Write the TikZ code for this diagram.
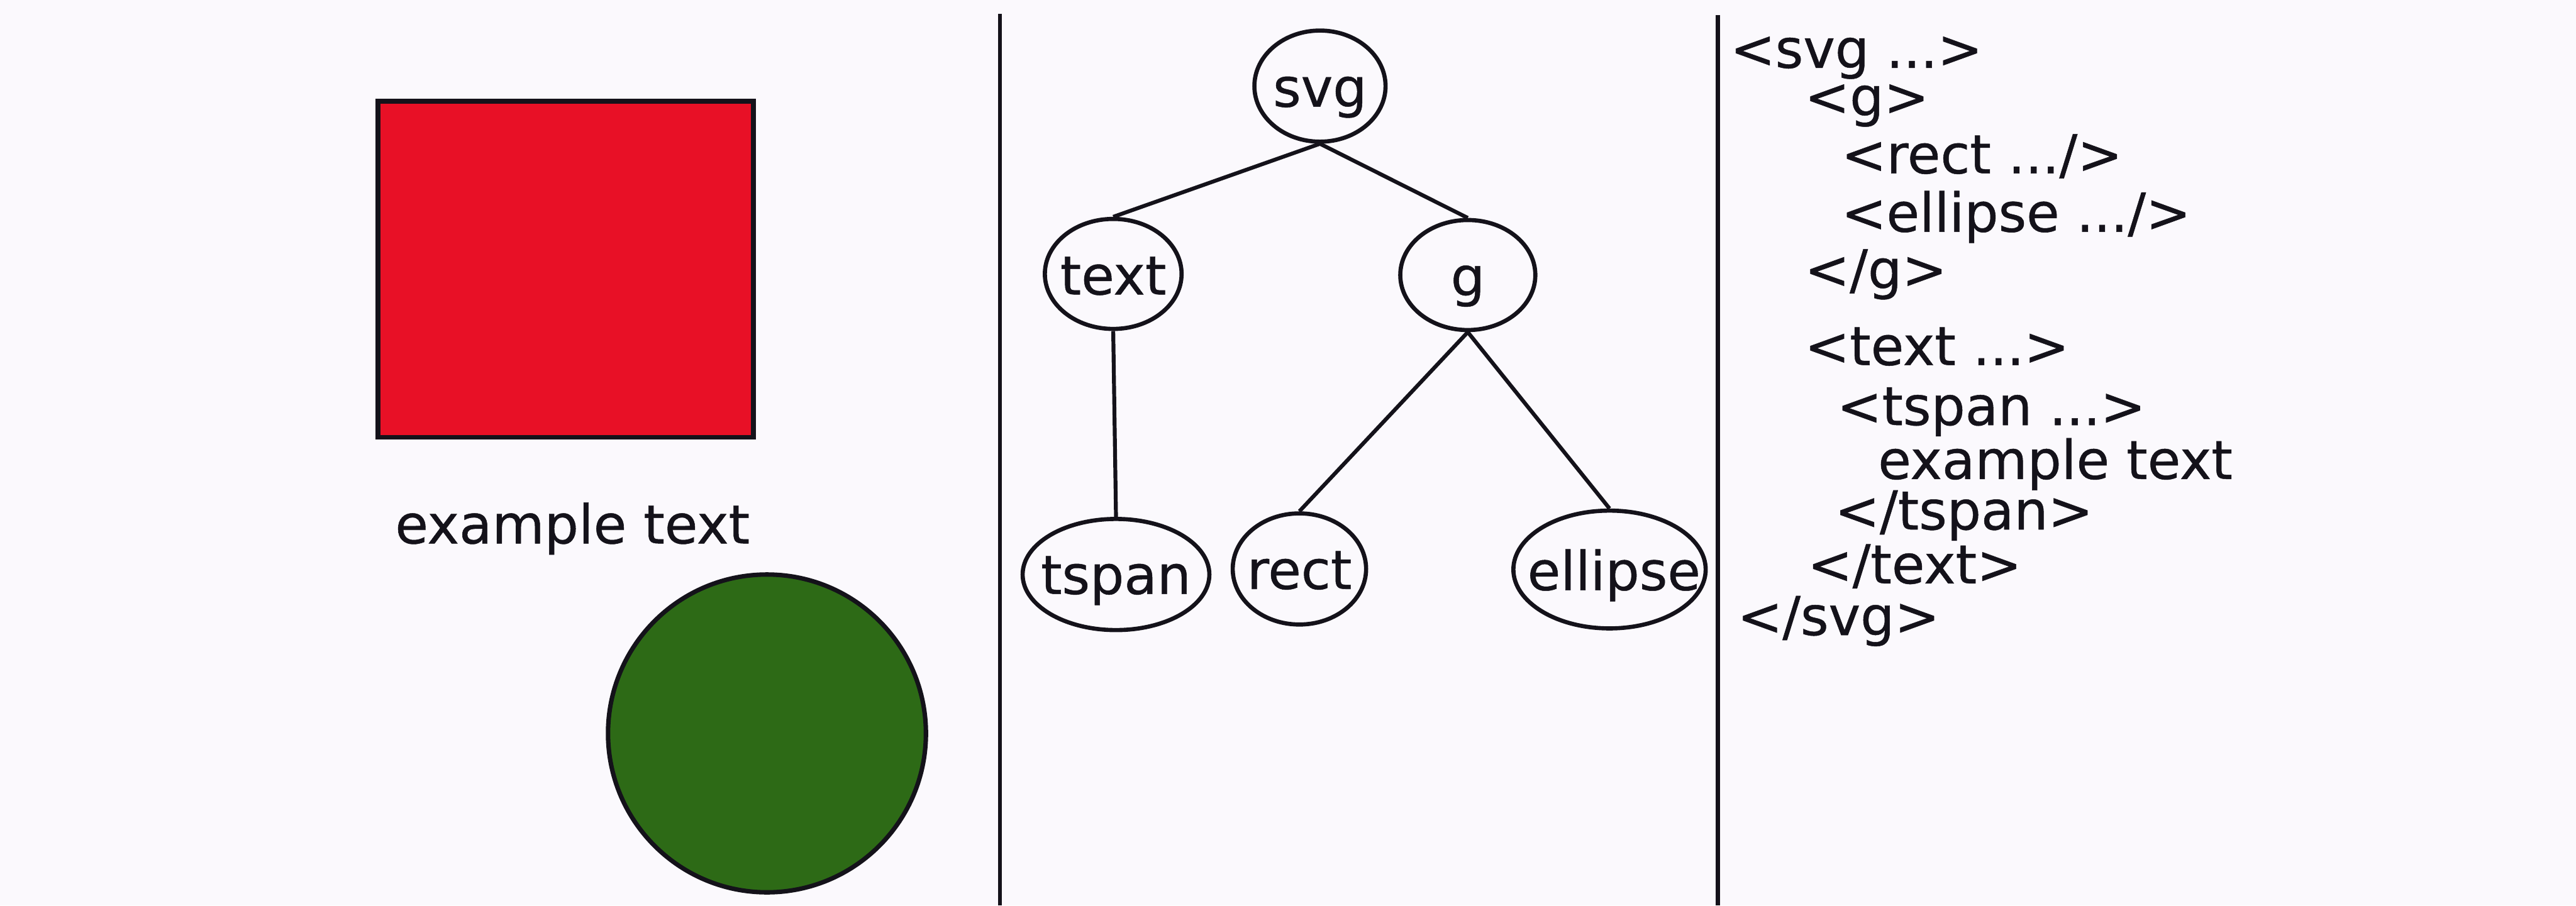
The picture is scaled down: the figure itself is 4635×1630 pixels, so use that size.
\documentclass[tikz,border=0pt]{standalone}
\usepackage{fontspec}
\setmainfont{DejaVu Sans}[FakeBold=0.6]
\usetikzlibrary{shapes.geometric}
\definecolor{paper}{RGB}{251,249,253}
\definecolor{ink}{RGB}{20,18,26}
\definecolor{shapered}{RGB}{232,16,38}
\definecolor{shapegreen}{RGB}{45,106,22}
\begin{document}
\begin{tikzpicture}[x=1pt,y=-1pt,
  every node/.style={font=\fontsize{96.7}{116}\selectfont, text=ink},
  treenode/.style={ellipse, draw=ink, line width=7.5pt, inner sep=0pt},
  treelabel/.style={anchor=base, inner sep=0pt},
  edge/.style={draw=ink, line width=7pt},
  rule/.style={draw=ink, line width=7pt},
  xml/.style={anchor=base west, inner sep=0pt}]

% page
\fill[paper] (0,0) rectangle (4635,1630);
\useasboundingbox (0,0) rectangle (4635,1630);

% rendered drawing: rectangle, caption, circle
\draw[ink, line width=9pt, fill=shapered] (680,182) rectangle (1356,787);
\node[anchor=base, inner sep=0pt] (caption) at (1030,978) {example text};
\draw[ink, line width=8pt, fill=shapegreen] (1380,1320) circle (286);

% column rules
\coordinate (r1top) at (1799,25);
\coordinate (r1bot) at (1799,1630);
\coordinate (r2top) at (3091,27);
\coordinate (r2bot) at (3091,1630);
\draw[rule] (r1top) -- (r1bot);
\draw[rule] (r2top) -- (r2bot);

% document tree
\node[treenode, minimum width=236pt, minimum height=200pt] (svg)   at (2375,155) {};
\node[treenode, minimum width=246pt, minimum height=198pt] (textn) at (2003,493) {};
\node[treenode, minimum width=243pt, minimum height=198pt] (g)     at (2641,495) {};
\node[treenode, minimum width=336pt, minimum height=200pt] (tspan) at (2008,1034) {};
\node[treenode, minimum width=240pt, minimum height=200pt] (rect)  at (2338,1024) {};
\node[treenode, minimum width=346pt, minimum height=212pt] (ell)   at (2896,1025) {};

\node[treelabel] (svglbl)   at (2375,192)  {svg};
\node[treelabel] (textlbl)  at (2003,530)  {text};
\node[treelabel] (glbl)     at (2641,532)  {g};
\node[treelabel] (tspanlbl) at (2008,1069) {tspan};
\node[treelabel] (rectlbl)  at (2338,1060) {rect};
\node[treelabel] (elllbl)   at (2904,1062) {ellipse};

\draw[edge] (svg.south) -- (textn.north);
\draw[edge] (svg.south) -- (g.north);
\draw[edge] (textn.south) -- (tspan.north);
\draw[edge] (g.south) -- (rect.north);
\draw[edge] (g.south) -- (ell.north);

% markup listing
\node[xml] (l1)  at (3113,122)  {<svg ...>};
\node[xml] (l2)  at (3247,208)  {<g>};
\node[xml] (l3)  at (3313,312)  {<rect .../>};
\node[xml] (l4)  at (3313,417)  {<ellipse .../>};
\node[xml] (l5)  at (3247,519)  {</g>};
\node[xml] (l6)  at (3247,657)  {<text ...>};
\node[xml] (l7)  at (3305,765)  {<tspan ...>};
\node[xml] (l8)  at (3379,862)  {example text};
\node[xml] (l9)  at (3301,953)  {</tspan>};
\node[xml] (l10) at (3252,1050) {</text>};
\node[xml] (l11) at (3126,1143) {</svg>};
\end{tikzpicture}
\end{document}
